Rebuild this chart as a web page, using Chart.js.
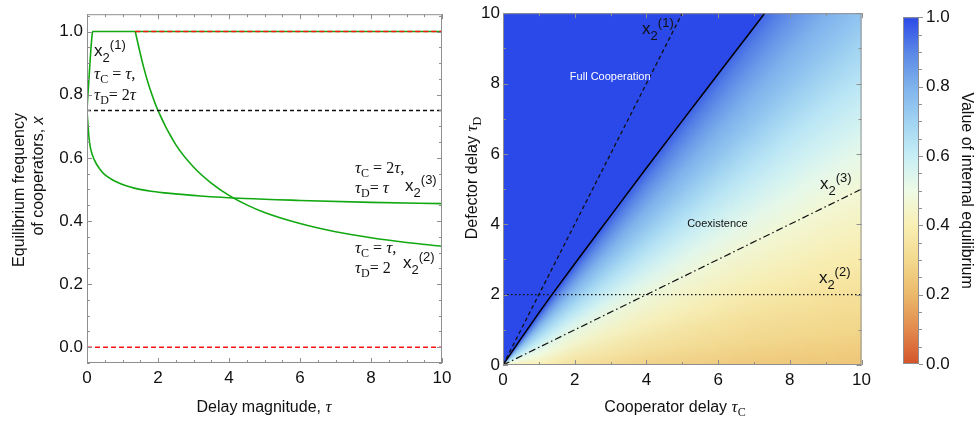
<!DOCTYPE html>
<html>
<head>
<meta charset="utf-8">
<script src="https://cdn.jsdelivr.net/npm/chart.js@4.4.1/dist/chart.umd.min.js"></script>
<style>
  html, body { margin: 0; padding: 0; background: #fff; }
  #wrap { position: relative; width: 976px; height: 425px; overflow: hidden; }
  canvas { position: absolute; top: 0; }
</style>
</head>
<body>
<div id="wrap">
  <canvas id="lineChart" width="462" height="425" style="left:0"></canvas>
  <canvas id="heatChart" width="430" height="425" style="left:446px"></canvas>
  <canvas id="barChart" width="100" height="425" style="left:876px"></canvas>
</div>
<script>
const SANS = '"Liberation Sans", Arial, sans-serif';
const SERIF = '"Liberation Serif", "Times New Roman", serif';

// tick labels
const leftXTicks = [0, 2, 4, 6, 8, 10];
const leftYTicks = [0, 0.2, 0.4, 0.6, 0.8, 1];
const heatTicks = [0, 2, 4, 6, 8, 10];
const barTicks = [0, 0.2, 0.4, 0.6, 0.8, 1];

// left panel: equilibrium frequency of cooperators vs delay magnitude
// x2(1): tauC = tau, tauD = 2 tau
const tauOne = [0, 0.02, 0.05, 0.08, 0.11, 0.14, 0.16, 10];
const eqOne = [0.75, 0.79, 0.84, 0.895, 0.945, 0.985, 1.0, 1.0];
// x2(2): tauC = tau, tauD = 2
const tauTwo = [1.36, 1.45, 1.6, 1.75, 2, 2.5, 3, 3.5, 4, 4.5, 5, 6, 7, 8, 9, 10];
const eqTwo = [1.0, 0.955, 0.885, 0.827, 0.75, 0.642, 0.571, 0.52, 0.481, 0.451, 0.427, 0.392, 0.366, 0.347, 0.332, 0.32];
// x2(3): tauC = 2 tau, tauD = tau
const tauThree = [0, 0.03, 0.06, 0.1, 0.2, 0.375, 0.5, 0.9, 1.33, 1.8, 2.2, 3.2, 4.45, 6, 8, 10];
const eqThree = [0.75, 0.70, 0.66, 0.63, 0.595, 0.562, 0.547, 0.52, 0.504, 0.494, 0.489, 0.479, 0.471, 0.465, 0.459, 0.455];
// boundary equilibria and the no-delay level
const redTopTau = [1.36, 10];
const redTopEq = [1, 1];
const redBotTau = [0, 10];
const redBotEq = [0, 0];
const refTau = [0, 10];
const refEq = [0.75, 0.75];

// right panel: edge of full cooperation and the three delay paths
const edgeTauC = [0, 0.5, 1, 1.35, 2, 3, 4, 5, 6, 7.3];
const edgeTauD = [0, 0.75, 1.48, 1.98, 2.88, 4.24, 5.6, 6.94, 8.27, 10];
const pathOneC = [0, 5];
const pathOneD = [0, 10];
const pathTwoC = [0, 10];
const pathTwoD = [2, 2];
const pathThreeC = [0, 10];
const pathThreeD = [0, 5];

// internal equilibrium read along rays tauD / tauC, far out and near the origin
const rayRatio = [0, 0.1, 0.2, 0.3, 0.4, 0.5, 0.6, 0.7, 0.8, 0.9, 1.0, 1.1, 1.2, 1.3, 1.4, 1.47];
const rayValueFar = [0.24, 0.29, 0.33, 0.38, 0.425, 0.466, 0.52, 0.575, 0.63, 0.69, 0.75, 0.80, 0.855, 0.91, 0.965, 1.0];
const rayValueNear = [0.40, 0.43, 0.46, 0.49, 0.52, 0.55, 0.59, 0.63, 0.67, 0.71, 0.75, 0.80, 0.85, 0.90, 0.95, 1.0];
// weight of the near-origin values by distance from the origin
const nearRadius = [0, 1, 2, 4, 7, 10];
const nearWeight = [1, 1, 0.6, 0.29, 0.08, 0];

// colour scale
const cmapStops = [0, 0.1, 0.2, 0.3, 0.4, 0.5, 0.6, 0.7, 0.8, 0.9, 1.0];
const cmapColors = ['#d4532a', '#e28a4e', '#ebb96a', '#f3d98e', '#f9efb4', '#eefbe6',
                    '#c6eef6', '#a0d3f2', '#7fb2ec', '#5a86e6', '#2b48e8'];

const GREEN = '#12a812';
const BLUE = '#2b48e8';

function pts(xs, ys) {
  return xs.map((v, i) => ({x: v, y: ys[i]}));
}

function hexRgb(h) {
  const n = parseInt(h.slice(1), 16);
  return [n >> 16, (n >> 8) & 255, n & 255];
}

function colorFor(v) {
  let i = 0;
  while (i < cmapStops.length - 2 && v > cmapStops[i + 1]) i++;
  const t = Math.max(0, Math.min(1, (v - cmapStops[i]) / (cmapStops[i + 1] - cmapStops[i])));
  const a = hexRgb(cmapColors[i]), b = hexRgb(cmapColors[i + 1]);
  return 'rgb(' + a.map((c, k) => Math.round(c + (b[k] - c) * t)).join(',') + ')';
}

// text pieces
const sans = (t, s, dy, c) => ({t, f: s + 'px ' + SANS, dy: dy || 0, c});
const sansIt = (t, s, dy) => ({t, f: 'italic ' + s + 'px ' + SANS, dy: dy || 0});
const serif = (t, s, dy) => ({t, f: s + 'px ' + SERIF, dy: dy || 0});
const tau = s => ({t: '\u03c4', f: 'italic ' + s + 'px ' + SERIF, dy: 0});
const x2 = n => [sans('x', 17), sans('2', 13, 6), sans('(' + n + ')', 13, -7)];

function drawRich(ctx, x, y, parts, align) {
  let w = 0;
  parts.forEach(p => { ctx.font = p.f; p.w = ctx.measureText(p.t).width; w += p.w; });
  let cx = align === 'center' ? x - w / 2 : x;
  ctx.textAlign = 'left';
  ctx.textBaseline = 'alphabetic';
  parts.forEach(p => {
    ctx.font = p.f;
    ctx.fillStyle = p.c || '#111';
    ctx.fillText(p.t, cx, y + p.dy);
    cx += p.w;
  });
}

function makeNotes(name, items) {
  return {
    id: 'notes' + name,
    afterDraw(chart) {
      const {ctx, scales: {x, y}} = chart;
      ctx.save();
      items.forEach(it => {
        const px = it.px !== undefined ? it.px : x.getPixelForValue(it.x);
        const py = it.py !== undefined ? it.py : y.getPixelForValue(it.y);
        if (it.rot) {
          ctx.save();
          ctx.translate(px, py);
          ctx.rotate(it.rot);
          drawRich(ctx, 0, 0, it.parts, it.align);
          ctx.restore();
        } else {
          drawRich(ctx, px, py, it.parts, it.align);
        }
      });
      ctx.restore();
    }
  };
}

// frame with inward ticks on all four sides
function makeFrame(name, c) {
  return {
    id: 'frame' + name,
    afterDatasetsDraw(chart) {
      const {ctx, chartArea: a, scales: {x, y}} = chart;
      ctx.save();
      ctx.strokeStyle = '#8f8f8f';
      ctx.lineWidth = 1;
      ctx.beginPath();
      const marks = (scale, step, len, horiz) => {
        for (let k = Math.ceil(scale.min / step - 1e-6); k * step <= scale.max + 1e-6; k++) {
          const p = Math.round(scale.getPixelForValue(k * step)) + 0.5;
          if (horiz) {
            ctx.moveTo(p, a.bottom); ctx.lineTo(p, a.bottom - len);
            ctx.moveTo(p, a.top); ctx.lineTo(p, a.top + len);
          } else {
            ctx.moveTo(a.left, p); ctx.lineTo(a.left + len, p);
            ctx.moveTo(a.right, p); ctx.lineTo(a.right - len, p);
          }
        }
      };
      marks(x, c.xMinor, 3, true);
      marks(x, c.xMajor, 5, true);
      marks(y, c.yMinor, 3, false);
      marks(y, c.yMajor, 5, false);
      ctx.stroke();
      ctx.strokeRect(a.left + 0.5, a.top + 0.5, a.width - 1, a.height - 1);
      ctx.restore();
    }
  };
}

// colour field below the cooperation edge, coloured ray by ray from the origin
const heatField = {
  id: 'heatField',
  beforeDatasetsDraw(chart) {
    const {ctx, chartArea: a, scales: {x, y}} = chart;
    const ox = x.getPixelForValue(0), oy = y.getPixelForValue(0);
    const conic = (c, values) => {
      const g = c.createConicGradient(-Math.PI / 2, ox, oy);
      rayRatio.forEach((r, i) => {
        const ang = Math.atan2(y.getPixelForValue(r) - oy, x.getPixelForValue(1) - ox);
        g.addColorStop((ang + Math.PI / 2) / (2 * Math.PI), colorFor(values[i]));
      });
      return g;
    };
    ctx.save();
    ctx.fillStyle = conic(ctx, rayValueFar);
    ctx.fillRect(a.left, a.top, a.width, a.height);

    const off = document.createElement('canvas');
    off.width = chart.width;
    off.height = chart.height;
    const oc = off.getContext('2d');
    oc.fillStyle = conic(oc, rayValueNear);
    oc.fillRect(a.left, a.top, a.width, a.height);
    oc.globalCompositeOperation = 'destination-in';
    const maxR = nearRadius[nearRadius.length - 1];
    const R = x.getPixelForValue(maxR) - ox;
    const rg = oc.createRadialGradient(ox, oy, 0, ox, oy, R);
    nearRadius.forEach((d, i) => rg.addColorStop(d / maxR, 'rgba(0,0,0,' + nearWeight[i] + ')'));
    oc.fillStyle = rg;
    oc.fillRect(a.left, a.top, a.width, a.height);
    ctx.drawImage(off, 0, 0);
    ctx.restore();
  }
};

const colorBar = {
  id: 'colorBar',
  afterDatasetsDraw(chart) {
    const {ctx, chartArea: a, scales: {y}} = chart;
    const y0 = y.getPixelForValue(0), y1 = y.getPixelForValue(1);
    const g = ctx.createLinearGradient(0, y0, 0, y1);
    cmapStops.forEach((v, i) => g.addColorStop(v, cmapColors[i]));
    ctx.save();
    ctx.fillStyle = g;
    ctx.fillRect(a.left, y1, a.width, y0 - y1);
    ctx.strokeStyle = '#8f8f8f';
    ctx.lineWidth = 1;
    ctx.strokeRect(a.left + 0.5, y1 + 0.5, a.width - 1, y0 - y1 - 1);
    ctx.beginPath();
    for (let k = 0; k <= 20; k++) {
      const p = Math.round(y.getPixelForValue(k * 0.05)) + 0.5;
      ctx.moveTo(a.right, p);
      ctx.lineTo(a.right + (k % 4 === 0 ? 4 : 3), p);
    }
    ctx.stroke();
    ctx.restore();
  }
};

const tickFont = {size: 17, family: SANS};

const axisBase = (ticksArr, fmt, pad) => ({
  type: 'linear',
  grid: {display: false, drawTicks: false},
  border: {display: false},
  ticks: {font: tickFont, color: '#111', padding: pad, autoSkip: false, maxRotation: 0, callback: fmt},
  afterBuildTicks: s => { s.ticks = ticksArr.map(v => ({value: v})); }
});

const lineDs = (xs, ys, color, width, dash, order) => ({
  data: pts(xs, ys), borderColor: color, borderWidth: width, borderDash: dash || [],
  order: order, fill: false, pointRadius: 0
});

// left panel
new Chart(document.getElementById('lineChart'), {
  type: 'line',
  data: {
    datasets: [
      lineDs(redTopTau, redTopEq, '#ff1414', 1.6, [5, 3], 0),
      lineDs(redBotTau, redBotEq, '#ff1414', 1.6, [5, 3], 0),
      lineDs(refTau, refEq, '#111', 1.4, [4, 3], 1),
      lineDs(tauOne, eqOne, GREEN, 1.6, null, 2),
      lineDs(tauTwo, eqTwo, GREEN, 1.6, null, 2),
      lineDs(tauThree, eqThree, GREEN, 1.6, null, 2)
    ]
  },
  options: {
    responsive: false,
    animation: false,
    devicePixelRatio: 1,
    layout: {padding: {left: 0, top: 5, right: 20, bottom: 0}},
    elements: {line: {cubicInterpolationMode: 'monotone'}},
    plugins: {legend: {display: false}, tooltip: {enabled: false}},
    scales: {
      x: Object.assign(axisBase(leftXTicks, v => String(v), 5), {
        min: 0, max: 10, afterFit: s => { s.height = 62; }
      }),
      y: Object.assign(axisBase(leftYTicks, v => v.toFixed(1), 4), {
        min: -0.05, max: 1.055, afterFit: s => { s.width = 87; }
      })
    }
  },
  plugins: [
    makeFrame('L', {xMajor: 2, xMinor: 0.5, yMajor: 0.2, yMinor: 0.05}),
    makeNotes('L', [
      {x: 0.2, y: 0.922, parts: x2('1')},
      {x: 0.2, y: 0.851, parts: [tau(17), serif('C', 12, 4), serif(' = ', 16), tau(17), serif(',', 17)]},
      {x: 0.2, y: 0.783, parts: [tau(17), serif('D', 12, 4), serif('= 2', 16), tau(17)]},
      {x: 7.55, y: 0.552, parts: [tau(17), serif('C', 12, 4), serif(' = 2', 16), tau(17), serif(',', 17)]},
      {x: 7.55, y: 0.49, parts: [tau(17), serif('D', 12, 4), serif('= ', 16), tau(17)]},
      {x: 8.96, y: 0.496, parts: x2('3')},
      {x: 7.55, y: 0.299, parts: [tau(17), serif('C', 12, 4), serif(' = ', 16), tau(17), serif(',', 17)]},
      {x: 7.55, y: 0.234, parts: [tau(17), serif('D', 12, 4), serif('= 2', 16)]},
      {x: 8.9, y: 0.25, parts: x2('2')},
      {px: 264, py: 412, align: 'center', parts: [sans('Delay magnitude, ', 16), tau(17)]},
      {px: 24, py: 190, rot: -Math.PI / 2, align: 'center', parts: [sans('Equilibrium frequency', 16)]},
      {px: 43, py: 176, rot: -Math.PI / 2, align: 'center', parts: [sans('of cooperators, ', 16), sansIt('x', 16)]}
    ])
  ]
});

// right panel
new Chart(document.getElementById('heatChart'), {
  type: 'line',
  data: {
    datasets: [
      lineDs(pathOneC, pathOneD, '#111', 1.3, [4, 3], 0),
      lineDs(pathThreeC, pathThreeD, '#111', 1.2, [7, 3, 1.5, 3], 0),
      lineDs(pathTwoC, pathTwoD, '#111', 1.2, [1.5, 2.5], 0),
      Object.assign(lineDs(edgeTauC, edgeTauD, '#000', 1.5, null, 5),
        {fill: 'end', backgroundColor: BLUE, cubicInterpolationMode: 'monotone'})
    ]
  },
  options: {
    responsive: false,
    animation: false,
    devicePixelRatio: 1,
    layout: {padding: {left: 0, top: 4, right: 12, bottom: 0}},
    plugins: {legend: {display: false}, tooltip: {enabled: false}},
    scales: {
      x: Object.assign(axisBase(heatTicks, v => String(v), 5), {
        min: 0, max: 10, afterFit: s => { s.height = 60; }
      }),
      y: Object.assign(axisBase(heatTicks, v => String(v), 3), {
        min: 0, max: 10, afterFit: s => { s.width = 57; }
      })
    }
  },
  plugins: [
    heatField,
    makeFrame('R', {xMajor: 2, xMinor: 1, yMajor: 2, yMinor: 1}),
    makeNotes('R', [
      {x: 3.88, y: 9.42, parts: x2('1')},
      {x: 2.99, y: 8.1, align: 'center', parts: [sans('Full Cooperation', 11, 0, '#fff')]},
      {x: 5.98, y: 3.91, align: 'center', parts: [sans('Coexistence', 11)]},
      {x: 8.84, y: 4.99, parts: x2('3')},
      {x: 8.81, y: 2.33, parts: x2('2')},
      {px: 229, py: 412, align: 'center', parts: [sans('Cooperator delay ', 16), tau(17), serif('C', 12, 4)]},
      {px: 31, py: 178, rot: -Math.PI / 2, align: 'center', parts: [sans('Defector delay ', 16), tau(17), serif('D', 12, 4)]}
    ])
  ]
});

// colour bar
new Chart(document.getElementById('barChart'), {
  type: 'scatter',
  data: {datasets: [{data: []}]},
  options: {
    responsive: false,
    animation: false,
    devicePixelRatio: 1,
    layout: {padding: {left: 27, top: 7, right: 0, bottom: 61}},
    plugins: {legend: {display: false}, tooltip: {enabled: false}},
    scales: {
      x: {display: false, min: 0, max: 1},
      y: Object.assign(axisBase(barTicks, v => v.toFixed(1), 7), {
        position: 'right', min: 0, max: 1,
        title: {display: true, text: 'Value of internal equilibrium', color: '#111',
                font: {size: 16, family: SANS}, padding: {top: 0, bottom: 0}},
        afterFit: s => { s.width = 57; }
      })
    }
  },
  plugins: [colorBar]
});
</script>
</body>
</html>
